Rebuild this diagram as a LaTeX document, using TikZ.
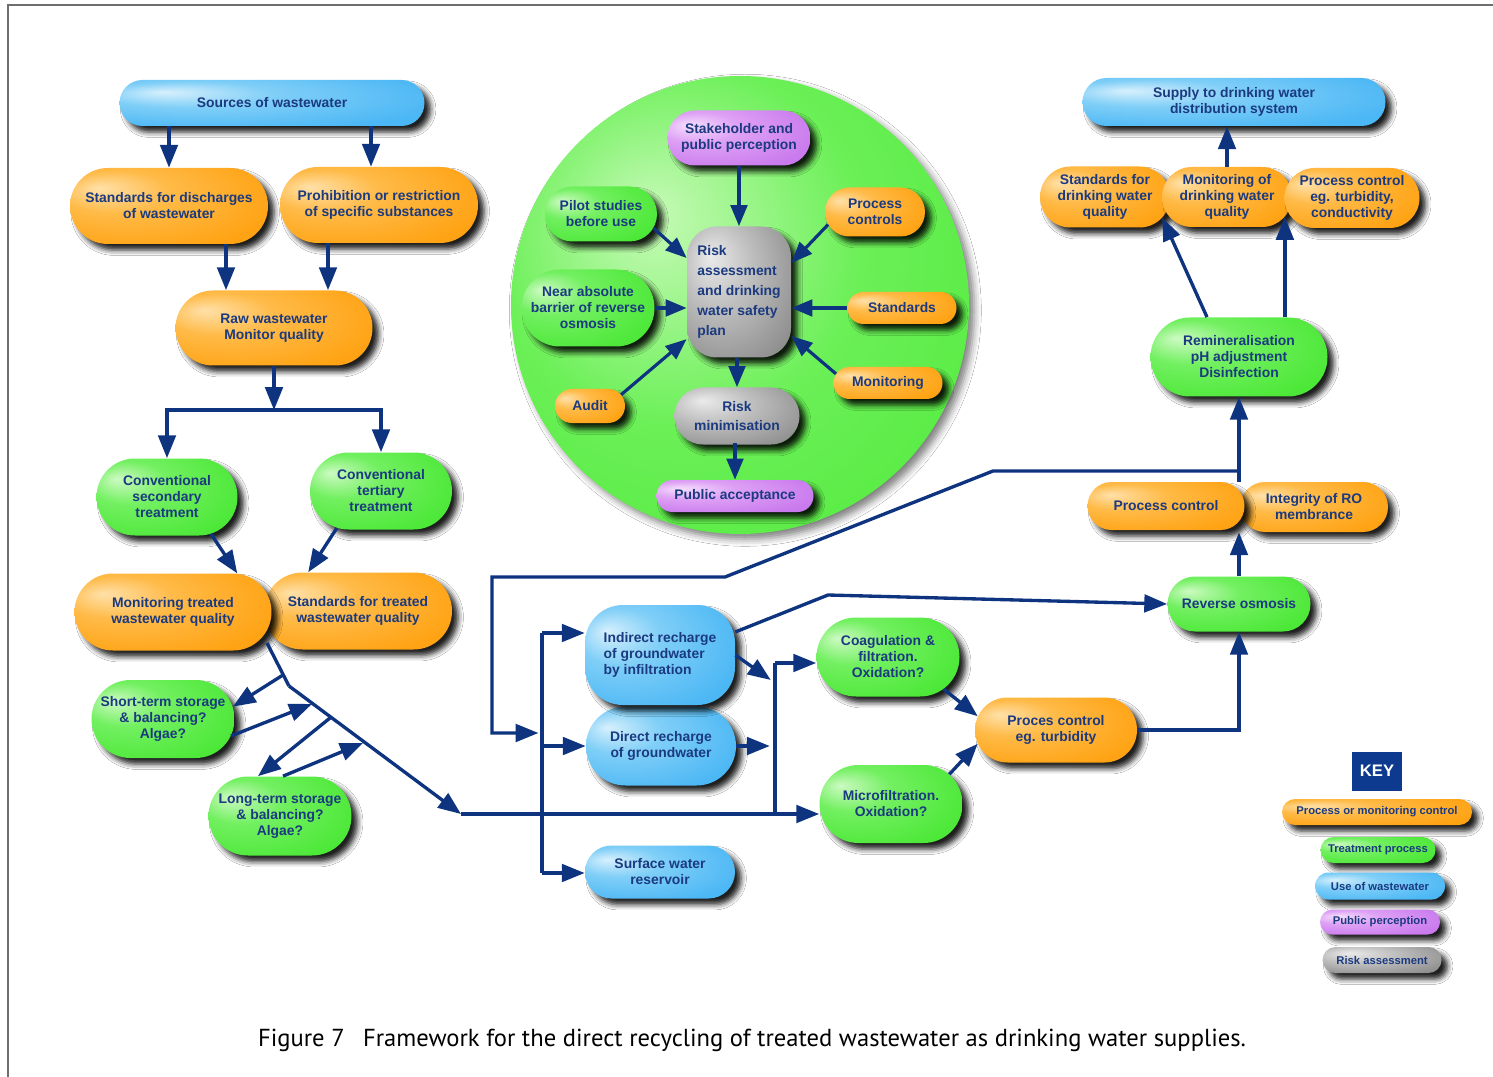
\documentclass[tikz,border=0pt]{standalone}
\usepackage{fontspec}
\setmainfont{Liberation Sans}
\newfontfamily\capfont{PT Sans}
\usetikzlibrary{arrows.meta,shadows.blur,shapes.misc}

\definecolor{txt}{RGB}{27,58,128}
\definecolor{arr}{RGB}{14,52,128}
\definecolor{keyblue}{RGB}{13,58,142}
\definecolor{framec}{RGB}{110,110,110}

% fills: light highlight towards the upper left
\pgfdeclareradialshading{shOrange}{\pgfpoint{-18bp}{12bp}}{rgb(0bp)=(1,0.88,0.66); rgb(14bp)=(1,0.73,0.28); rgb(35bp)=(1,0.64,0.08); rgb(60bp)=(0.98,0.60,0.04)}
\pgfdeclareradialshading{shGreen}{\pgfpoint{-18bp}{12bp}}{rgb(0bp)=(0.80,0.98,0.76); rgb(14bp)=(0.45,0.94,0.38); rgb(35bp)=(0.30,0.91,0.22); rgb(60bp)=(0.26,0.88,0.18)}
\pgfdeclareradialshading{shBlue}{\pgfpoint{-18bp}{12bp}}{rgb(0bp)=(0.84,0.94,0.99); rgb(14bp)=(0.50,0.81,0.97); rgb(35bp)=(0.30,0.72,0.96); rgb(60bp)=(0.25,0.69,0.95)}
\pgfdeclareradialshading{shPurple}{\pgfpoint{-18bp}{12bp}}{rgb(0bp)=(0.96,0.87,0.99); rgb(14bp)=(0.87,0.63,0.96); rgb(35bp)=(0.79,0.48,0.93); rgb(60bp)=(0.75,0.42,0.91)}
\pgfdeclareradialshading{shGray}{\pgfpoint{-14bp}{14bp}}{rgb(0bp)=(0.92,0.92,0.92); rgb(16bp)=(0.75,0.75,0.75); rgb(38bp)=(0.55,0.55,0.55); rgb(60bp)=(0.48,0.48,0.48)}
\pgfdeclareradialshading{shCircle}{\pgfpoint{-10bp}{10bp}}{rgb(0bp)=(0.78,0.98,0.72); rgb(20bp)=(0.42,0.94,0.34); rgb(38bp)=(0.33,0.92,0.25); rgb(60bp)=(0.30,0.90,0.22)}

\newcommand\boxfont{\bfseries\fontsize{7.9}{9.1}\selectfont}
\newcommand\riskfont{\bfseries\fontsize{7.9}{11.3}\selectfont}
\newcommand\keyfont{\bfseries\fontsize{6.4}{7.5}\selectfont}

\tikzset{
  sh/.style={blur shadow={shadow xshift=3.5pt, shadow yshift=-3.5pt, shadow blur radius=3pt, shadow opacity=88}},
  base/.style={sh, text=txt, align=center, inner sep=0pt, font=\boxfont},
  pill/.style n args={2}{base, rounded rectangle, minimum width=#1*0.02cm, minimum height=#2*0.02cm},
  rbox/.style n args={3}{base, rectangle, minimum width=#1*0.02cm, minimum height=#2*0.02cm, rounded corners=#3*0.02cm},
  orangeF/.style={shade, shading=shOrange},
  greenF/.style={shade, shading=shGreen},
  blueF/.style={shade, shading=shBlue},
  purpleF/.style={shade, shading=shPurple},
  grayF/.style={shade, shading=shGray},
  flow/.style={draw=arr, line width=1.9pt, -{Triangle[length=13pt,width=10pt]}},
  flowS/.style={draw=arr, line width=1.8pt, -{Triangle[length=12pt,width=9.5pt]}},
  link/.style={draw=arr, line width=1.9pt},
}

\begin{document}
\begin{tikzpicture}[x=0.02cm, y=-0.02cm]
\useasboundingbox (0,0) rectangle (1493,1077);
\fill[white] (0,0) rectangle (1493,1077);
\draw[framec, line width=1.1pt] (8,1077) -- (8,5) -- (1493,5);

% ---- risk assessment circle ----
\node[circle, inner sep=0pt, minimum size=458*0.02cm, shade, shading=shCircle,
      blur shadow={shadow xshift=3pt, shadow yshift=-3pt, shadow blur radius=4pt, shadow opacity=50}] (circ) at (740,305) {};
\node[pill={143}{55}, purpleF] (stake) at (739,138) {Stakeholder and\\public perception};
\node[pill={112}{55}, greenF] (pilot) at (601,214) {Pilot studies\\before use};
\node[pill={100}{49}, orangeF] (pcs) at (875,212) {Process\\controls};
\node[rbox={104}{131}{30}, grayF, align=left, font=\riskfont] (ra) at (739,292) {Risk\\assessment\\and drinking\\water safety\\plan};
\node[pill={133}{77}, greenF] (near) at (588,308) {Near absolute\\barrier of reverse\\osmosis};
\node[pill={109}{32}, orangeF] (stds) at (902,308) {Standards};
\node[pill={109}{32}, orangeF] (mon) at (888,383) {Monitoring};
\node[pill={70}{34}, orangeF] (audit) at (590,406) {Audit};
\node[pill={125}{57}, grayF, font=\riskfont] (rmin) at (737,416) {Risk\\minimisation};
\node[pill={157}{32}, purpleF] (pub) at (735,496) {Public acceptance};

\draw[flowS] (stake.south) -- (ra.north);
\draw[flowS] (pilot.-15) -- (ra.147);
\draw[flowS] (pcs.-165) -- (ra.29);
\draw[flowS] (near.east) -- (near.east -| ra.west);
\draw[flowS] (stds.west) -- (stds.west -| ra.east);
\draw[flowS] (mon.170) -- (ra.-40);
\draw[flowS] (audit.20) -- (ra.-138);
\draw[flowS] (ra.south -| rmin.north) -- (rmin.north);
\draw[flowS] (rmin.south) -- (rmin.south -| pub.north) -- (pub.north);

% ---- wastewater side ----
\node[pill={305}{46}, blueF] (src) at (272,103) {Sources of wastewater};
\node[pill={198}{76}, orangeF] (stdDis) at (169,206) {Standards for discharges\\of wastewater};
\node[pill={198}{76}, orangeF] (prohib) at (379,205) {Prohibition or restriction\\of specific substances};
\node[pill={197}{75}, orangeF] (raw) at (274,328) {Raw wastewater\\Monitor quality};
\node[pill={141}{77}, greenF] (sec) at (167,497) {Conventional\\secondary\\treatment};
\node[pill={142}{77}, greenF] (ter) at (381,491) {Conventional\\tertiary\\treatment};
\node[pill={188}{77}, orangeF] (stdT) at (358,611) {Standards for treated\\wastewater quality};
\node[pill={197}{77}, orangeF] (monT) at (173,612) {Monitoring treated\\wastewater quality};
\node[pill={143}{78}, greenF] (shortS) at (163,719) {Short-term storage\\\& balancing?\\Algae?};
\node[pill={143}{79}, greenF] (longS) at (280,816) {Long-term storage\\\& balancing?\\Algae?};

% ---- uses and treatment ----
\node[pill={150}{79}, blueF] (direct) at (661,746) {Direct recharge\\of groundwater};
\node[rbox={150}{100}{38}, blueF, align=left] (indir) at (660,655) {Indirect recharge\\of groundwater\\by infiltration};
\node[pill={150}{53}, blueF] (surf) at (660,872) {Surface water\\reservoir};
\node[pill={143}{79}, greenF] (coag) at (888,657) {Coagulation \&\\filtration.\\Oxidation?};
\node[pill={143}{78}, greenF] (micro) at (891,804) {Microfiltration.\\Oxidation?};
\node[pill={162}{65}, orangeF] (pct) at (1056,730) {Proces control\\eg. turbidity};
\node[pill={143}{55}, greenF] (ro) at (1239,604) {Reverse osmosis};
\node[pill={148}{50}, orangeF] (integ) at (1314,507) {Integrity of RO\\membrance};
\node[pill={157}{48}, orangeF] (pc) at (1166,506) {Process control};
\node[pill={177}{79}, greenF] (remin) at (1239,357) {Remineralisation\\pH adjustment\\Disinfection};
\node[pill={130}{61}, orangeF] (stdDW) at (1105,197) {Standards for\\drinking water\\quality};
\node[pill={130}{60}, orangeF] (monDW) at (1227,197) {Monitoring of\\drinking water\\quality};
\node[pill={135}{60}, orangeF] (pcDW) at (1352,198) {Process control\\eg. turbidity,\\conductivity};
\node[pill={303}{48}, blueF] (supply) at (1234,102) {Supply to drinking water\\distribution system};

% ---- connectors: wastewater side ----
\draw[flow] (src.south -| stdDis.north) -- (stdDis.north);
\draw[flow] (src.south -| 371,0) -- (prohib.north -| 371,0);
\draw[flow] (stdDis.south -| 226,0) -- (raw.north -| 226,0);
\draw[flow] (prohib.south -| 328,0) -- (raw.north -| 328,0);
\coordinate (split) at (274,410);
\draw[flow] (raw.south) -- (split);
\draw[flow] (split) -| (sec.north);
\draw[flow] (split) -| (ter.north);
\draw[flow] (sec.-40) -- (monT.31);
\draw[flow] (ter.-140) -- (stdT.142);

% treated water outlet with storage loops
\coordinate (tq) at (267,643);
\coordinate (bend) at (289,686);
\coordinate (j1) at (283,675);
\coordinate (j2) at (312,704);
\coordinate (j3) at (330,718);
\coordinate (j4) at (363,743);
\coordinate (busL) at (461,814);
\draw[link] (tq) -- (bend);
\draw[flow] (bend) -- (busL);
\draw[flow] (j1) -- (shortS.10);
\draw[flow] (shortS.-14) -- (j2);
\draw[flow] (j3) -- (longS.north -| 258,0);
\draw[flow] (longS.north -| 283,0) -- (j4);
\draw[flow] (busL) -- (busL -| micro.west);

% recharge distribution
\coordinate (b1t) at (542,633);
\coordinate (b1m) at (542,733);
\coordinate (b1b) at (542,873);
\draw[link] (b1t) -- (b1b);
\draw[flow] (b1t) -- (b1t -| indir.west);
\draw[flow] (b1t |- direct.west) -- (direct.west);
\draw[flow] (b1b) -- (b1b -| surf.west);

% return line from the RO stage
\coordinate (rj) at (1239,471);
\draw[flow, shorten >=2pt] (rj) -- (993,471) -- (725,577) -- (492,577) -- (492,733) -- (b1m);

% feed to pre-treatment
\coordinate (b2t) at (775,663);
\coordinate (b2b) at (775,814);
\coordinate (b2a) at (775,683);
\draw[link] (b2t) -- (b2b);
\draw[flow] (b2t) -- (b2t -| coag.west);
\draw[flow, shorten >=3pt] (direct.east) -- (b2t |- direct.east);
\draw[flow, shorten >=3pt] (indir.east) -- (b2a);
\draw[flow] (indir.17) -- (828,595) -- (ro.west);
\draw[flow] (coag.-30) -- (pct.170);
\draw[flow] (micro.27) -- (pct.-170);
\draw[flow] (pct.east) -| (ro.south);
\draw[flow] (ro.north) -- (ro.north |- integ.south);
\draw[flow] (ro.north |- pc.north) -- (remin.south);
\draw[flow] (remin.north -| 1207,0) -- (stdDW.-20);
\draw[flow] (remin.north -| monDW.-19) -- (monDW.-19);
\draw[flow] (monDW.north) -- (monDW.north |- supply.south);

% ---- key ----
\node[fill=keyblue, inner sep=0pt, minimum width=50*0.02cm, minimum height=39*0.02cm, text=white,
      font=\bfseries\fontsize{9.5}{10}\selectfont] (key) at (1377,771) {KEY};
\node[pill={190}{26}, orangeF, font=\keyfont] (k1) at (1377,812) {Process or monitoring control};
\node[pill={115}{26}, greenF, font=\keyfont] (k2) at (1378,850) {Treatment process};
\node[pill={130}{27}, blueF, font=\keyfont] (k3) at (1380,886) {Use of wastewater};
\node[pill={120}{25}, purpleF, font=\keyfont] (k4) at (1380,922) {Public perception};
\node[pill={119}{26}, grayF, font=\keyfont] (k5) at (1382,960) {Risk assessment};

% ---- caption ----
\node[font=\capfont\fontsize{14}{16}\selectfont, text=black] (cap) at (752,1040)
  {Figure 7\hspace{0.75em}Framework for the direct recycling of treated wastewater as drinking water supplies.};
\end{tikzpicture}
\end{document}
